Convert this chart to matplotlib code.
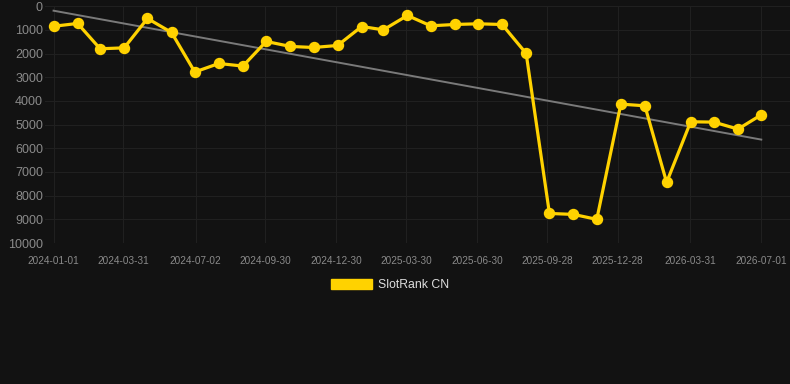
import matplotlib
matplotlib.use("Agg")
import matplotlib.pyplot as plt
import matplotlib.dates as mdates
import matplotlib.patches as mpatches
import numpy as np
import pandas as pd

plt.rcParams['font.family'] = ['Liberation Sans', 'DejaVu Sans']

dates = pd.date_range("2024-01-01", "2026-07-01", freq="MS")
ranks = [850, 730, 1800, 1760, 520, 1110, 2780, 2420, 2530, 1490,
         1700, 1745, 1660, 860, 1000, 394, 830, 774, 745, 774,
         1997, 8750, 8790, 9000, 4135, 4206, 7440, 4880, 4895, 5190, 4586]
tick_labels = ["2024-01-01", "2024-03-31", "2024-07-02", "2024-09-30", "2024-12-30",
               "2025-03-30", "2025-06-30", "2025-09-28", "2025-12-28", "2026-03-31",
               "2026-07-01"]
y_ticks = [0, 1000, 2000, 3000, 4000, 5000, 6000, 7000, 8000, 9000, 10000]
series_name = "SlotRank CN"

bg = "#121212"
gold = "#FFD200"

fig = plt.figure(figsize=(7.9, 3.84), dpi=100, facecolor=bg)
ax = fig.add_axes([0.057, 0.367, 0.943, 0.617], facecolor=bg)

xnum = mdates.date2num(dates)
ax.plot(dates, ranks, color=gold, lw=2.3, marker='o', ms=7.2, zorder=3)

# linear trend
coef = np.polyfit(xnum, ranks, 1)
tx = np.array([xnum[0], xnum[-1]])
ax.plot(mdates.num2date(tx), np.polyval(coef, tx), color="#7a7a7a", lw=1.4, zorder=2)

tick_dates = pd.to_datetime(tick_labels)
ax.set_xticks(tick_dates)
ax.set_xticklabels(tick_labels)
ax.set_yticks(y_ticks)
ax.set_yticklabels([str(v) for v in y_ticks])
ax.set_ylim(10000, 0)
ax.set_xlim(tick_dates[0] - pd.Timedelta(days=11), tick_dates[-1] + pd.Timedelta(days=37))

ax.grid(True, color="#202020", lw=0.8)
for s in ax.spines.values():
    s.set_visible(False)
ax.tick_params(axis='both', length=0)
ax.tick_params(axis='y', labelsize=9, colors="#8a8a8a", pad=1.5)
ax.tick_params(axis='x', labelsize=7.2, colors="#8a8a8a", pad=9)

handle = mpatches.Patch(color=gold, label=series_name)
leg = fig.legend(handles=[handle], loc='center', bbox_to_anchor=(0.494, 0.258),
                 frameon=False, fontsize=8.8, handlelength=3.3, handleheight=0.9,
                 handletextpad=0.5)
for t in leg.get_texts():
    t.set_color("#dddddd")

fig.savefig("out.png", dpi=100, facecolor=bg)
